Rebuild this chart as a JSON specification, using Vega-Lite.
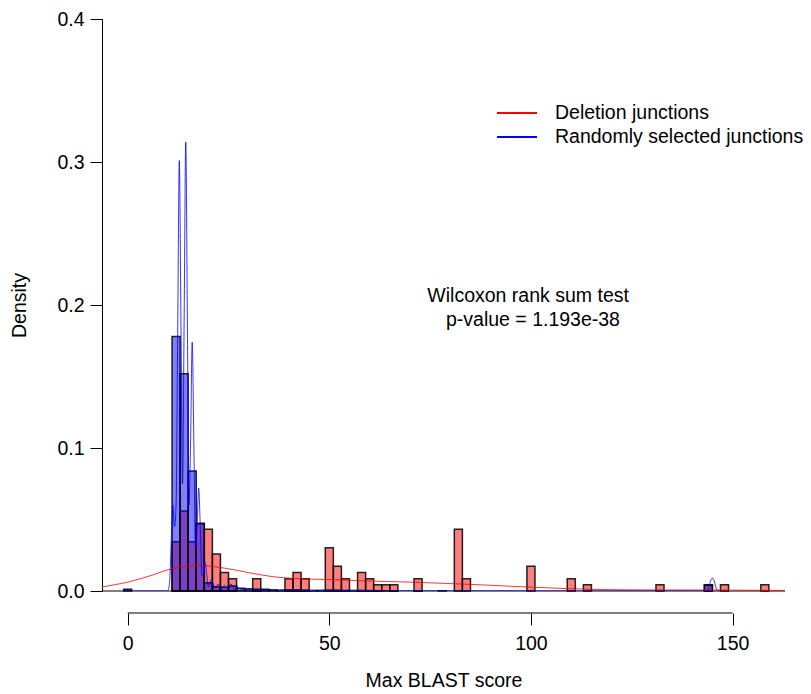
{
  "$schema": "https://vega.github.io/schema/vega-lite/v6.json",
  "width": 683,
  "height": 572,
  "autosize": {"type": "none"},
  "padding": {"left": 102, "top": 19, "right": 26, "bottom": 103},
  "background": "white",
  "config": {
    "view": {"stroke": null},
    "font": "Liberation Sans",
    "axis": {"grid": false, "labelColor": "black", "titleColor": "black", "tickColor": "black", "domainColor": "black", "titleFontWeight": "normal", "labelFont": "Liberation Sans", "titleFont": "Liberation Sans"}
  },
  "datasets": {
    "redHist": [
      {"start": 11, "end": 13, "density": 0.03448},
      {"start": 13, "end": 15, "density": 0.05603},
      {"start": 15, "end": 17, "density": 0.03448},
      {"start": 17, "end": 19, "density": 0.04741},
      {"start": 19, "end": 21, "density": 0.0431},
      {"start": 21, "end": 23, "density": 0.02586},
      {"start": 23, "end": 25, "density": 0.01293},
      {"start": 25, "end": 27, "density": 0.00862},
      {"start": 31, "end": 33, "density": 0.00862},
      {"start": 39, "end": 41, "density": 0.00862},
      {"start": 41, "end": 43, "density": 0.01293},
      {"start": 43, "end": 45, "density": 0.00862},
      {"start": 49, "end": 51, "density": 0.03017},
      {"start": 51, "end": 53, "density": 0.01724},
      {"start": 53, "end": 55, "density": 0.00862},
      {"start": 57, "end": 59, "density": 0.01293},
      {"start": 59, "end": 61, "density": 0.00862},
      {"start": 61, "end": 63, "density": 0.00431},
      {"start": 63, "end": 65, "density": 0.00431},
      {"start": 65, "end": 67, "density": 0.00431},
      {"start": 71, "end": 73, "density": 0.00862},
      {"start": 81, "end": 83, "density": 0.0431},
      {"start": 83, "end": 85, "density": 0.00862},
      {"start": 99, "end": 101, "density": 0.01724},
      {"start": 109, "end": 111, "density": 0.00862},
      {"start": 113, "end": 115, "density": 0.00431},
      {"start": 131, "end": 133, "density": 0.00431},
      {"start": 143, "end": 145, "density": 0.00431},
      {"start": 147, "end": 149, "density": 0.00431},
      {"start": 157, "end": 159, "density": 0.00431}
    ],
    "blueHist": [
      {"start": -1, "end": 1, "density": 0.0012},
      {"start": 11, "end": 13, "density": 0.178},
      {"start": 13, "end": 15, "density": 0.152},
      {"start": 15, "end": 17, "density": 0.084},
      {"start": 17, "end": 19, "density": 0.047},
      {"start": 19, "end": 21, "density": 0.0058},
      {"start": 21, "end": 23, "density": 0.003},
      {"start": 23, "end": 25, "density": 0.0026},
      {"start": 25, "end": 27, "density": 0.0035},
      {"start": 27, "end": 29, "density": 0.002},
      {"start": 29, "end": 31, "density": 0.0015},
      {"start": 31, "end": 33, "density": 0.0012},
      {"start": 33, "end": 35, "density": 0.0012},
      {"start": 35, "end": 37, "density": 0.0008},
      {"start": 37, "end": 39, "density": 0.0006},
      {"start": 39, "end": 41, "density": 0.0008},
      {"start": 41, "end": 43, "density": 0.0008},
      {"start": 43, "end": 45, "density": 0.0006},
      {"start": 45, "end": 47, "density": 0.0004},
      {"start": 47, "end": 49, "density": 0.0004},
      {"start": 49, "end": 51, "density": 0.0006},
      {"start": 51, "end": 53, "density": 0.0006},
      {"start": 53, "end": 55, "density": 0.0004},
      {"start": 55, "end": 57, "density": 0.0004},
      {"start": 57, "end": 59, "density": 0.0004},
      {"start": 59, "end": 61, "density": 0.0003},
      {"start": 61, "end": 63, "density": 0.0002},
      {"start": 65, "end": 67, "density": 0.0002},
      {"start": 71, "end": 73, "density": 0.0002},
      {"start": 77, "end": 79, "density": 0.0002},
      {"start": 143, "end": 145, "density": 0.004}
    ],
    "dens": [
      {"series": "Deletion junctions", "x": -6.37, "y": 0.0028},
      {"series": "Deletion junctions", "x": -3, "y": 0.0045},
      {"series": "Deletion junctions", "x": 0, "y": 0.0062},
      {"series": "Deletion junctions", "x": 3, "y": 0.0085},
      {"series": "Deletion junctions", "x": 6, "y": 0.011},
      {"series": "Deletion junctions", "x": 9, "y": 0.014},
      {"series": "Deletion junctions", "x": 12, "y": 0.0162},
      {"series": "Deletion junctions", "x": 15, "y": 0.0175},
      {"series": "Deletion junctions", "x": 18, "y": 0.0178},
      {"series": "Deletion junctions", "x": 21, "y": 0.0172},
      {"series": "Deletion junctions", "x": 24, "y": 0.016},
      {"series": "Deletion junctions", "x": 27, "y": 0.0145},
      {"series": "Deletion junctions", "x": 30, "y": 0.0128},
      {"series": "Deletion junctions", "x": 33, "y": 0.0113},
      {"series": "Deletion junctions", "x": 36, "y": 0.01},
      {"series": "Deletion junctions", "x": 40, "y": 0.009},
      {"series": "Deletion junctions", "x": 45, "y": 0.0083},
      {"series": "Deletion junctions", "x": 50, "y": 0.008},
      {"series": "Deletion junctions", "x": 55, "y": 0.0075},
      {"series": "Deletion junctions", "x": 60, "y": 0.007},
      {"series": "Deletion junctions", "x": 65, "y": 0.0066},
      {"series": "Deletion junctions", "x": 70, "y": 0.0062},
      {"series": "Deletion junctions", "x": 75, "y": 0.0057},
      {"series": "Deletion junctions", "x": 80, "y": 0.0052},
      {"series": "Deletion junctions", "x": 85, "y": 0.0046},
      {"series": "Deletion junctions", "x": 90, "y": 0.004},
      {"series": "Deletion junctions", "x": 95, "y": 0.0033},
      {"series": "Deletion junctions", "x": 100, "y": 0.0027},
      {"series": "Deletion junctions", "x": 105, "y": 0.0021},
      {"series": "Deletion junctions", "x": 110, "y": 0.0016},
      {"series": "Deletion junctions", "x": 115, "y": 0.0012},
      {"series": "Deletion junctions", "x": 120, "y": 0.0009},
      {"series": "Deletion junctions", "x": 130, "y": 0.0007},
      {"series": "Deletion junctions", "x": 140, "y": 0.0007},
      {"series": "Deletion junctions", "x": 150, "y": 0.0006},
      {"series": "Deletion junctions", "x": 163, "y": 0.0004},
      {"series": "Randomly selected junctions", "x": -1.2, "y": 0},
      {"series": "Randomly selected junctions", "x": -0.4, "y": 0.0003},
      {"series": "Randomly selected junctions", "x": 0, "y": 0.0012},
      {"series": "Randomly selected junctions", "x": 0.4, "y": 0.0003},
      {"series": "Randomly selected junctions", "x": 1.2, "y": 0},
      {"series": "Randomly selected junctions", "x": 9.6, "y": 0},
      {"series": "Randomly selected junctions", "x": 10.0, "y": 0.0005},
      {"series": "Randomly selected junctions", "x": 10.4, "y": 0.006},
      {"series": "Randomly selected junctions", "x": 10.8, "y": 0.035},
      {"series": "Randomly selected junctions", "x": 11.2, "y": 0.06},
      {"series": "Randomly selected junctions", "x": 11.6, "y": 0.045},
      {"series": "Randomly selected junctions", "x": 12.0, "y": 0.06},
      {"series": "Randomly selected junctions", "x": 12.4, "y": 0.18},
      {"series": "Randomly selected junctions", "x": 12.8, "y": 0.301},
      {"series": "Randomly selected junctions", "x": 13.2, "y": 0.19},
      {"series": "Randomly selected junctions", "x": 13.6, "y": 0.075},
      {"series": "Randomly selected junctions", "x": 14.0, "y": 0.19},
      {"series": "Randomly selected junctions", "x": 14.4, "y": 0.314},
      {"series": "Randomly selected junctions", "x": 14.8, "y": 0.19},
      {"series": "Randomly selected junctions", "x": 15.2, "y": 0.06},
      {"series": "Randomly selected junctions", "x": 15.6, "y": 0.105},
      {"series": "Randomly selected junctions", "x": 16.0, "y": 0.174},
      {"series": "Randomly selected junctions", "x": 16.4, "y": 0.105},
      {"series": "Randomly selected junctions", "x": 16.8, "y": 0.03},
      {"series": "Randomly selected junctions", "x": 17.2, "y": 0.045},
      {"series": "Randomly selected junctions", "x": 17.6, "y": 0.072},
      {"series": "Randomly selected junctions", "x": 18.0, "y": 0.045},
      {"series": "Randomly selected junctions", "x": 18.4, "y": 0.011},
      {"series": "Randomly selected junctions", "x": 18.8, "y": 0.012},
      {"series": "Randomly selected junctions", "x": 19.2, "y": 0.02},
      {"series": "Randomly selected junctions", "x": 19.6, "y": 0.012},
      {"series": "Randomly selected junctions", "x": 20.0, "y": 0.003},
      {"series": "Randomly selected junctions", "x": 20.4, "y": 0.005},
      {"series": "Randomly selected junctions", "x": 20.8, "y": 0.008},
      {"series": "Randomly selected junctions", "x": 21.2, "y": 0.005},
      {"series": "Randomly selected junctions", "x": 21.6, "y": 0.002},
      {"series": "Randomly selected junctions", "x": 22.0, "y": 0.003},
      {"series": "Randomly selected junctions", "x": 22.4, "y": 0.005},
      {"series": "Randomly selected junctions", "x": 22.8, "y": 0.003},
      {"series": "Randomly selected junctions", "x": 23.2, "y": 0.001},
      {"series": "Randomly selected junctions", "x": 23.6, "y": 0.0025},
      {"series": "Randomly selected junctions", "x": 24.0, "y": 0.004},
      {"series": "Randomly selected junctions", "x": 24.4, "y": 0.0025},
      {"series": "Randomly selected junctions", "x": 24.8, "y": 0.0015},
      {"series": "Randomly selected junctions", "x": 25.2, "y": 0.003},
      {"series": "Randomly selected junctions", "x": 25.6, "y": 0.005},
      {"series": "Randomly selected junctions", "x": 26.0, "y": 0.003},
      {"series": "Randomly selected junctions", "x": 26.4, "y": 0.001},
      {"series": "Randomly selected junctions", "x": 26.8, "y": 0.002},
      {"series": "Randomly selected junctions", "x": 27.2, "y": 0.003},
      {"series": "Randomly selected junctions", "x": 27.6, "y": 0.002},
      {"series": "Randomly selected junctions", "x": 28.4, "y": 0.0008},
      {"series": "Randomly selected junctions", "x": 28.8, "y": 0.002},
      {"series": "Randomly selected junctions", "x": 29.2, "y": 0.001},
      {"series": "Randomly selected junctions", "x": 30.0, "y": 0.0006},
      {"series": "Randomly selected junctions", "x": 30.4, "y": 0.0015},
      {"series": "Randomly selected junctions", "x": 30.8, "y": 0.0006},
      {"series": "Randomly selected junctions", "x": 32.0, "y": 0.0012},
      {"series": "Randomly selected junctions", "x": 32.8, "y": 0.0004},
      {"series": "Randomly selected junctions", "x": 33.6, "y": 0.0012},
      {"series": "Randomly selected junctions", "x": 34.4, "y": 0.0004},
      {"series": "Randomly selected junctions", "x": 35.2, "y": 0.0009},
      {"series": "Randomly selected junctions", "x": 36.0, "y": 0.0003},
      {"series": "Randomly selected junctions", "x": 36.8, "y": 0.0008},
      {"series": "Randomly selected junctions", "x": 37.6, "y": 0.0002},
      {"series": "Randomly selected junctions", "x": 38.4, "y": 0.0007},
      {"series": "Randomly selected junctions", "x": 39.2, "y": 0.0003},
      {"series": "Randomly selected junctions", "x": 40.0, "y": 0.0008},
      {"series": "Randomly selected junctions", "x": 40.8, "y": 0.0003},
      {"series": "Randomly selected junctions", "x": 41.6, "y": 0.0007},
      {"series": "Randomly selected junctions", "x": 42.4, "y": 0.0002},
      {"series": "Randomly selected junctions", "x": 43.2, "y": 0.0006},
      {"series": "Randomly selected junctions", "x": 44.8, "y": 0.0004},
      {"series": "Randomly selected junctions", "x": 46.4, "y": 0.0003},
      {"series": "Randomly selected junctions", "x": 48.0, "y": 0.0005},
      {"series": "Randomly selected junctions", "x": 49.6, "y": 0.0005},
      {"series": "Randomly selected junctions", "x": 51.2, "y": 0.0005},
      {"series": "Randomly selected junctions", "x": 52.8, "y": 0.0003},
      {"series": "Randomly selected junctions", "x": 54.4, "y": 0.0004},
      {"series": "Randomly selected junctions", "x": 56.0, "y": 0.0003},
      {"series": "Randomly selected junctions", "x": 57.6, "y": 0.0004},
      {"series": "Randomly selected junctions", "x": 60, "y": 0.0002},
      {"series": "Randomly selected junctions", "x": 65, "y": 0.0001},
      {"series": "Randomly selected junctions", "x": 70, "y": 0.0002},
      {"series": "Randomly selected junctions", "x": 80, "y": 0.0001},
      {"series": "Randomly selected junctions", "x": 100, "y": 0.0001},
      {"series": "Randomly selected junctions", "x": 120, "y": 0},
      {"series": "Randomly selected junctions", "x": 143.4, "y": 0},
      {"series": "Randomly selected junctions", "x": 143.8, "y": 0.0005},
      {"series": "Randomly selected junctions", "x": 144.2, "y": 0.003},
      {"series": "Randomly selected junctions", "x": 144.6, "y": 0.0075},
      {"series": "Randomly selected junctions", "x": 145.0, "y": 0.009},
      {"series": "Randomly selected junctions", "x": 145.4, "y": 0.0075},
      {"series": "Randomly selected junctions", "x": 145.8, "y": 0.003},
      {"series": "Randomly selected junctions", "x": 146.2, "y": 0.0005},
      {"series": "Randomly selected junctions", "x": 146.8, "y": 0}
    ]
  },
  "layer": [
    {
      "data": {"name": "redHist"},
      "mark": {"type": "rect", "fill": "#ff0000", "fillOpacity": 0.5, "stroke": "black", "strokeWidth": 1.5, "strokeOpacity": 0.85},
      "encoding": {
        "x": {"field": "start", "type": "quantitative",
              "scale": {"domain": [-6.37, 163], "nice": false, "zero": false},
              "axis": {"values": [0, 50, 100, 150], "offset": 22, "tickSize": 12, "domain": false, "labelFontSize": 19.5, "labelPadding": 9, "labelFlush": false, "title": "Max BLAST score", "titleFontSize": 19.5, "titlePadding": 19}},
        "x2": {"field": "end"},
        "y": {"field": "density", "type": "quantitative",
              "scale": {"domain": [0, 0.4], "nice": false, "zero": false},
              "axis": {"values": [0, 0.1, 0.2, 0.3, 0.4], "format": ".1f", "tickSize": 12, "labelFontSize": 19.5, "labelPadding": 6, "title": "Density", "titleFontSize": 19.5, "titlePadding": 27}},
        "y2": {"datum": 0}
      }
    },
    {
      "data": {"name": "blueHist"},
      "mark": {"type": "rect", "fill": "#0000ff", "fillOpacity": 0.5, "stroke": "black", "strokeWidth": 1.5, "strokeOpacity": 0.85},
      "encoding": {
        "x": {"field": "start", "type": "quantitative"},
        "x2": {"field": "end"},
        "y": {"field": "density", "type": "quantitative"},
        "y2": {"datum": 0}
      }
    },
    {
      "data": {"values": [{}]},
      "mark": {"type": "rule", "color": "black", "strokeWidth": 1},
      "encoding": {"y": {"datum": 0}}
    },
    {
      "data": {"values": [{}]},
      "mark": {"type": "rule", "color": "black", "strokeWidth": 1},
      "encoding": {"x": {"datum": 0}, "x2": {"datum": 150}, "y": {"datum": -0.01538}}
    },
    {
      "data": {"name": "dens"},
      "mark": {"type": "line", "strokeWidth": 0.8, "clip": true, "interpolate": "monotone"},
      "encoding": {
        "x": {"field": "x", "type": "quantitative"},
        "y": {"field": "y", "type": "quantitative"},
        "color": {"field": "series", "type": "nominal",
                  "scale": {"domain": ["Deletion junctions", "Randomly selected junctions"], "range": ["#ff0000", "#0000ff"]},
                  "legend": {"title": null, "orient": "none", "legendX": 404, "legendY": 83, "symbolType": "M-2,0H2", "symbolSize": 400, "symbolStrokeWidth": 2, "labelFontSize": 19.5, "labelFont": "Liberation Sans", "labelColor": "black", "labelOffset": 27, "labelLimit": 0, "rowPadding": 3, "padding": 0}}
      }
    },
    {
      "data": {"values": [{"label": "Wilcoxon rank sum test"}]},
      "mark": {"type": "text", "fontSize": 19.5, "font": "Liberation Sans", "color": "black", "align": "center", "baseline": "middle"},
      "encoding": {"x": {"datum": 99.3}, "y": {"datum": 0.2063}, "text": {"field": "label"}}
    },
    {
      "data": {"values": [{"label": "p-value = 1.193e-38"}]},
      "mark": {"type": "text", "fontSize": 19.5, "font": "Liberation Sans", "color": "black", "align": "center", "baseline": "middle"},
      "encoding": {"x": {"datum": 100.5}, "y": {"datum": 0.1895}, "text": {"field": "label"}}
    }
  ]
}
